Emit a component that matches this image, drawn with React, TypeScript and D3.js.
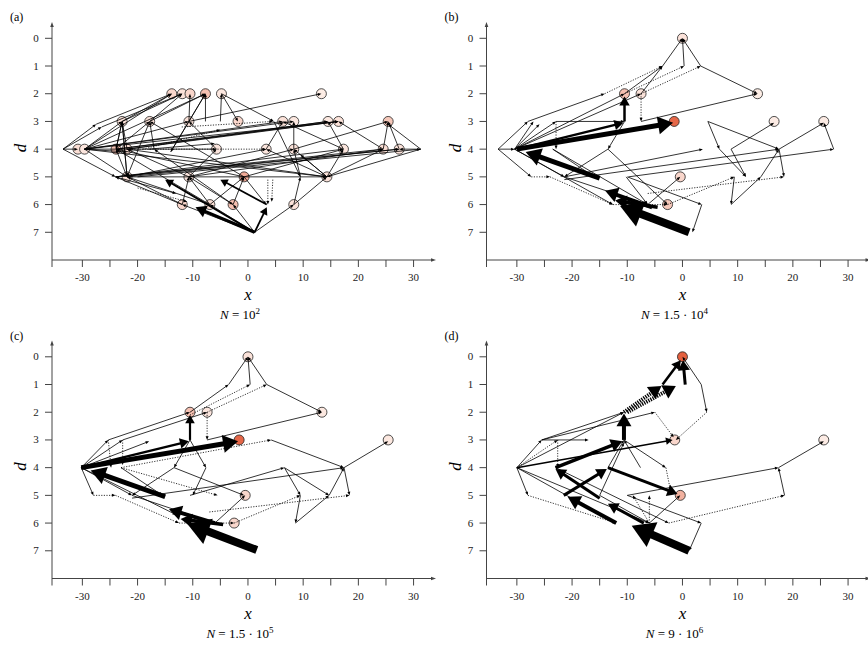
import React from 'react';
import * as d3 from 'd3';

type Node = [number, number, number];
type Edge = [number, number, number, number, number, number];

const xTicks = [-30, -25, -20, -15, -10, -5, 0, 5, 10, 15, 20, 25, 30];
const xTickLabels = [-30, -20, -10, 0, 10, 20, 30];
const yTicks = [0, 1, 2, 3, 4, 5, 6, 7];
const panelLabels = ['(a)', '(b)', '(c)', '(d)'];
const nMantissa = ['', '1.5 · ', '1.5 · ', '9 · '];
const nExponent = ['2', '4', '5', '6'];

const nodesA: Node[] = [
  [-13.8, 2, 0.2], [-11.9, 2, 0.12], [-10.5, 2, 0.2], [-7.7, 2, 0.35], [-4.8, 2, 0.08], [13.3, 2, 0.05],
  [-22.8, 3, 0.12], [-17.8, 3, 0.12], [-10.7, 3, 0.12], [-1.8, 3, 0.2], [6.3, 3, 0.12], [8.3, 3, 0.08],
  [14.5, 3, 0.08], [16.4, 3, 0.12], [25.4, 3, 0.3],
  [-30.8, 4, 0.15], [-29.6, 4, 0.1], [-23.9, 4, 0.35], [-21.9, 4, 0.15], [-5.7, 4, 0.1], [3.3, 4, 0.1],
  [8.3, 4, 0.12], [17.3, 4, 0.1], [24.5, 4, 0.15], [27.4, 4, 0.12],
  [-21.9, 5, 0.12], [-10.7, 5, 0.1], [-0.7, 5, 0.5], [14.3, 5, 0.12],
  [-11.9, 6, 0.2], [-6.9, 6, 0.15], [-2.7, 6, 0.35], [8.3, 6, 0.12],
];

const edgesA: Edge[] = [
  [1.2, 7, -9.5, 6.1, 3.2, 0], [1.2, 7, -15, 5.1, 2, 0], [1.2, 7, 3.4, 6.1, 1.8, 0], [3.4, 6, -5, 5.1, 1.8, 0],
  [1.2, 7, -11.9, 6, 1, 0], [1.2, 7, -6.9, 6, 1, 0], [1.2, 7, -2.7, 6, 1, 0], [1.2, 7, 8.3, 6, 1, 0],
  [3.6, 5.1, 3.6, 6, 1, 1], [4.5, 5.1, 4.3, 5.9, 1, 1],
  [-11.9, 6, -24, 5, 1, 0], [-11.9, 6, -21.9, 5, 1, 0], [-11.9, 6, -10.7, 5, 1, 0], [-6.9, 6, -10.7, 5, 1, 0],
  [-6.9, 6, -0.7, 5, 1, 0], [-2.7, 6, -0.7, 5, 1, 0], [-2.7, 6, -17, 4, 1, 0], [8.3, 6, 14.3, 5, 1, 0],
  [8.3, 6, 9.5, 5, 1, 0], [9.5, 5, 8.3, 4, 1, 0], [-6.9, 6, -23.9, 4, 1, 0], [-20, 5.4, -11, 5.9, 1, 1],
  [-33.5, 4, -27.5, 3.1, 1, 0], [-27.5, 3.1, -13.8, 2, 1, 0], [-33.5, 4, -30.8, 4, 1, 0], [-33.5, 4, -24, 5, 1, 0],
  [-33.5, 4, -26.5, 3.2, 1, 0], [-26.5, 3.2, -11.9, 2, 1, 0], [-29.6, 4, -13.8, 2, 1, 0], [-29.6, 4, -22.8, 3, 1, 0],
  [-29.6, 4, -10.7, 3, 1, 0], [-29.6, 4, -7.7, 2, 1, 0], [-29.6, 4, -21.9, 5, 1, 0], [-29.6, 4, 14.3, 5, 1, 0],
  [-29.6, 4, 6.3, 3, 1, 0], [-29.6, 4, -5.7, 4, 1, 0], [-24, 5, -13, 5.6, 1, 0], [-24, 5, 17.3, 4, 1, 0],
  [-24, 5, 24.5, 4, 1, 0], [-21.9, 5, 27.4, 4, 1, 0], [-21.9, 5, 3.3, 4, 1, 0], [-21.9, 5, -23.9, 4, 1, 0],
  [-21.9, 5, -22.8, 3, 1, 0], [-10.7, 5, -21.9, 4, 1, 0], [-10.7, 5, -5.7, 4, 1, 0], [-10.7, 5, 8.3, 4, 1, 0],
  [-0.7, 5, -17.8, 3, 1, 0], [-0.7, 5, -23.9, 4, 1, 0], [14.3, 5, 8.3, 4, 1, 0], [14.3, 5, 3.3, 4, 1, 0],
  [14.3, 5, 17.3, 4, 1, 0], [14.3, 5, 24.5, 4, 1, 0], [14.3, 5, -21.9, 4, 1, 0],
  [-23.9, 4, -22.8, 3, 1, 0], [-21.9, 4, -22.8, 3, 1, 0], [-23.9, 4, -17.8, 3, 1, 0], [-23.9, 4, 14.5, 3, 1, 0],
  [-21.9, 4, 16.4, 3, 1, 0], [-5.7, 4, -10.7, 3, 1, 0], [-17, 4, -17.8, 3, 1, 0], [-14, 4.1, -7.7, 2, 1, 0],
  [3.3, 4, 6.3, 3, 1, 0], [8.3, 4, 8.3, 3, 1, 0], [8.3, 4, 25.4, 3, 1, 0], [17.3, 4, 14.5, 3, 1, 0],
  [17.3, 4, 6.3, 3, 1, 0], [24.5, 4, 16.4, 3, 1, 0], [24.5, 4, 25.4, 3, 1, 0], [27.4, 4, 25.4, 3, 1, 0],
  [31.3, 4, 25.4, 3.1, 1, 0], [31.3, 4, 27.4, 4, 1, 0], [31.3, 4, 14.3, 5, 1, 0],
  [-22.8, 3, -13.8, 2, 1, 0], [-22.8, 3, -11.9, 2, 1, 0], [-17.8, 3, -11.9, 2, 1, 0], [-17.8, 3, -7.7, 2, 1, 0],
  [-10.7, 3, -10.5, 2, 1, 0], [-10.7, 3, -7.7, 2, 1, 0], [-7.7, 3, -7.7, 2, 1, 0], [-5, 3, -4.8, 2, 1, 0],
  [-4.8, 2, -1.8, 3, 1, 0], [-10.7, 3, 13.3, 2, 1, 0], [-4.8, 2, 4.7, 3, 1, 0], [4.7, 3, 9.5, 5, 1, 0],
  [-12, 3.2, 4.5, 3, 1, 1], [-19, 4, -5, 3.3, 1, 1], [-18, 4, -6, 3.8, 1, 0],
  [-24, 5, 27.4, 4, 1, 0], [-20, 5, 31.3, 4, 1, 0], [-29.6, 4, 8.3, 3, 1, 0], [-21.9, 4, 14.5, 3, 1, 0],
  [-10.7, 5, 24.5, 4, 1, 0], [-0.7, 5, 17.3, 4, 1, 0], [-23.9, 4, 16.4, 3, 1, 0], [-29.6, 4, 16.4, 3, 1, 0],
  [-21.9, 5, 14.3, 5, 1, 0], [-22.8, 3, -23.9, 4, 1, 0], [-22.8, 3, -21.9, 5, 1, 0], [-17.8, 3, -21.9, 5, 1, 0],
  [-10.7, 3, -14, 4.1, 1, 0], [-0.7, 5, 3.3, 6, 1, 0], [-10.7, 5, -2.7, 6, 1, 0], [-21.9, 5, -6.9, 6, 1, 0],
  [14.3, 5, 9.5, 4.2, 1, 0], [-23.9, 4, 3.3, 4, 1, 1], [-29.6, 4, -21.9, 4.1, 1, 0],
];

const nodesB: Node[] = [
  [0, 0, 0.12], [-10.5, 2, 0.35], [-7.5, 2, 0.12], [13.6, 2, 0.05], [-1.5, 3, 0.95],
  [16.6, 3, 0.06], [25.6, 3, 0.06], [-0.4, 5, 0.2], [-2.7, 6, 0.3],
];

const edgesB: Edge[] = [
  [1.2, 7, -11.3, 6.05, 8, 0], [-5.5, 6.1, -14, 5.5, 4, 0], [-4.5, 6.1, -12.2, 5.85, 3.5, 0],
  [-15, 5.05, -28.4, 4.1, 5, 0], [-30, 4, -1.7, 3.05, 5, 0], [-30, 4, -10.7, 3.05, 2.5, 0],
  [-10.5, 3, -10.5, 2.1, 2.5, 0],
  [-33.4, 4, -28, 3, 1, 0], [-28, 3, -14.1, 2, 1, 0], [-14.1, 2, -3.6, 1, 1, 1], [-33.4, 4, -30.4, 4, 1, 0],
  [-33.4, 4, -27.4, 5, 1, 0], [-27.4, 5, -24, 5, 1, 1], [-24, 5, -12.6, 6, 1, 1], [-30.4, 4, -27, 3, 1, 0],
  [-30.4, 4, -25.9, 3.1, 1, 0], [-30.4, 4, -22.9, 3, 1, 0], [-22.9, 3, -22.9, 4, 1, 1], [-22.9, 3, -10.5, 3, 1, 0],
  [-30.4, 4, -7.5, 2, 1, 0], [-30.4, 4, -10.5, 2, 1, 0], [-7.5, 2, -7.5, 3, 1, 1], [-7.5, 3, 13.6, 2, 1, 0],
  [-10.5, 2, -3.6, 1, 1, 0], [-7.5, 2, -3.6, 1, 1, 0], [-3.6, 1, 0, 0, 1, 0], [0.3, 1, 0, 0, 1, 0],
  [3.3, 1, 0, 0, 1, 0], [3.3, 1, 13.6, 2, 1, 0], [-10.5, 2, 0.3, 1, 1, 1], [-7.5, 2, 3.3, 1, 1, 1],
  [-10.5, 3, -13.5, 4, 1, 0], [-13.5, 4, -21.4, 5, 1, 0], [-13.5, 4, -2.7, 6, 1, 0], [-23.5, 4, -16, 5, 1, 0],
  [-23.5, 4, -6.3, 6, 1, 0], [-30.4, 4, -21.4, 5, 1, 0], [-30.4, 4, -12.6, 6, 1, 0], [-21.4, 5, 3.7, 4, 1, 0],
  [-21.4, 5.1, 17.5, 4, 1, 0], [-21.4, 5, -6.3, 6, 1, 0], [-10.2, 5, -6.3, 6, 1, 0], [-10, 5, 3.5, 6, 1, 0],
  [3.5, 6, 1.8, 7, 1, 0], [-9.8, 5, 27.4, 4, 1, 0], [27.4, 4, 25.6, 3.05, 1, 0], [17.5, 4, 25.6, 3.05, 1, 0],
  [17.5, 4, 18.4, 5, 1, 0], [14.2, 5, 17.5, 4, 1, 0], [8.8, 6, 14.2, 5, 1, 0], [9.4, 5, 8.8, 6, 1, 0],
  [4.6, 3, 6.7, 4, 1, 0], [4.6, 3, 17.5, 4, 1, 0], [6.7, 4, 11.5, 5, 1, 0], [8.8, 4, 11.5, 5, 1, 0],
  [8.8, 4, 16.6, 3.05, 1, 0], [-6.3, 6, -0.4, 5, 1, 0], [-2.7, 6, 9.4, 5, 1, 1], [-6.3, 5.6, 18.4, 5, 1, 1],
  [-12.6, 6, -2.7, 6, 1, 1],
];

const nodesC: Node[] = [
  [0, 0, 0.12], [-10.5, 2, 0.35], [-7.4, 2, 0.1], [13.4, 2, 0.08], [-1.6, 3, 0.95],
  [25.4, 3, 0.08], [-0.5, 5, 0.2], [-2.5, 6, 0.2],
];

const edgesC: Edge[] = [
  [1.6, 6.97, -11, 6.02, 8, 0], [-6, 6, -14.3, 5.5, 4, 0], [-4.5, 6.05, -12.2, 5.85, 3.5, 0],
  [-15, 5.05, -28.5, 4.1, 5, 0], [-30.2, 4, -1.8, 3.05, 5, 0], [-30.2, 4, -10.7, 3.05, 2.5, 0],
  [-10.5, 3, -10.5, 2.1, 2.2, 0],
  [-30.2, 4, -25.3, 3, 1, 0], [-25.3, 3, -24.8, 4, 1, 1], [-25.3, 3, -10.5, 2, 1, 0], [-22.7, 3, -7.4, 2, 1, 0],
  [-30.2, 4, -22.7, 3, 1, 0], [-22.7, 3, -22.7, 3.9, 1, 1], [-30.2, 4, -17.9, 3.05, 1, 0],
  [-10.5, 2, -3.5, 1, 1, 0], [-3.5, 1, 0, 0, 1, 0], [0.4, 1, 0, 0, 1, 0], [3.4, 1, 0, 0, 1, 0],
  [3.4, 1, 13.4, 2, 1, 0], [-10.5, 2.1, 0.4, 1, 1, 1], [-7.4, 2, 3.4, 1, 1, 1], [-7.4, 2, -7.4, 3, 1, 1],
  [-7.4, 3, 13.4, 2, 1, 0], [-23, 4, 4.2, 3, 1, 1], [4.2, 3, 17.4, 4, 1, 0], [17.4, 4, 25.4, 3.05, 1, 0],
  [17.4, 4, 18.4, 5, 1, 0], [-30.2, 4, -28, 5, 1, 0], [-28, 5, -24, 5, 1, 1], [-24, 5, -12.5, 6, 1, 1],
  [-30.2, 4, -13, 5.7, 1, 0], [-30.2, 4, -21, 5, 1, 0], [-10.5, 3, -13.4, 4, 1, 0], [-13.4, 4, -21, 5, 1, 0],
  [-13.4, 4, -0.7, 5, 1, 0], [-10.5, 3, -7.6, 4, 1, 0], [-7.6, 4, -10, 5, 1, 0], [-23, 4, -5.5, 5, 1, 1],
  [-23, 4, -15.5, 5, 1, 0], [-21, 5, -6, 6, 1, 0], [-10.5, 5, 6.6, 4, 1, 0], [6.6, 4, 9.5, 5, 1, 0],
  [9.5, 5, 8.6, 6, 1, 0], [8.6, 6, 14.7, 5, 1, 0], [14.7, 5, 17.4, 4, 1, 0], [6.6, 4, 14.7, 5, 1, 0],
  [-21, 5.1, 17.4, 4, 1, 0], [-2.5, 6, 9.5, 5, 1, 1], [-7, 5.6, 18.4, 5, 1, 1], [-6, 6, -0.5, 5, 1, 0],
  [-12.5, 6, -2.5, 6, 1, 1],
];

const nodesD: Node[] = [
  [0, 0, 1.0], [-1.4, 3, 0.2], [-0.4, 5, 0.45], [25.6, 3, 0.06],
];

const edgesD: Edge[] = [
  [1.2, 7, -9.2, 6.1, 8, 0], [-7, 6, -13.5, 5.3, 3, 0], [-12, 6, -20.8, 5.05, 4, 0], [-21.5, 5, -13.7, 4.05, 3, 0],
  [-13.5, 4, -0.9, 4.95, 3, 0], [-15, 5.1, -23, 4.05, 3, 0], [-23, 4, -10.9, 3.05, 3.5, 0],
  [-10.6, 3, -10.6, 2.05, 4, 0], [-10.6, 2, -3.8, 1.05, 4, 1], [-10, 2, -1.2, 1.05, 4, 1],
  [-3.6, 1, -0.3, 0.12, 2.5, 0], [0.5, 1, 0.1, 0.12, 3, 0], [-30, 4, -1.8, 3, 1.5, 0],
  [3.4, 1, 0, 0, 1, 0], [3.4, 1, 4.4, 2, 1, 0], [4.4, 2, -1.2, 3, 1, 1], [-5, 2, -1.6, 2.9, 1, 1],
  [-30, 4, -25.5, 3, 1, 0], [-25.5, 3, -10.6, 2, 1, 0], [-25.5, 3, -5, 2, 1, 0], [-25.5, 3, -17, 3, 1, 0],
  [-30, 4, -22.6, 3, 1, 1], [-22.6, 3, -22.6, 4, 1, 1], [-30, 4, -28, 5, 1, 0], [-28, 5, -12, 6, 1, 1],
  [-30, 4, -12, 6, 1, 0], [-30, 4, -6, 6, 1, 0], [-13.5, 4, -10.6, 3, 1, 0], [-7.6, 4, -10.6, 3, 1, 0],
  [-23, 4, -2.5, 6, 1, 0], [-2.5, 6, 18.5, 5, 1, 1], [18.5, 5, 17.4, 4, 1, 0], [17.4, 4, 25.6, 3.05, 1, 0],
  [-10, 5, 17.4, 4, 1, 0], [-10, 5, 3.4, 6, 1, 0], [3.4, 6, 1.2, 7, 1, 0], [-6, 6, -0.4, 5, 1, 0],
  [-10.6, 3, -3, 4, 1, 0], [-3, 4, -2, 5, 1, 1], [-15, 5, -6, 6, 1, 0], [-15, 5, -10.6, 3.1, 1, 0],
  [-6, 6, -9, 5, 1, 1], [-6, 6, -6, 5, 1, 1], [-30, 4, -10.6, 2, 1, 0],
];

const panelNodes = [nodesA, nodesB, nodesC, nodesD];
const panelEdges = [edgesA, edgesB, edgesC, edgesD];
const offsets: [number, number][] = [[0, 0], [434.5, 0], [0, 318.5], [434.5, 318.5]];

const xScale = d3.scaleLinear().domain([-35.5, 33.7]).range([52, 434]);
const yScale = d3.scaleLinear().domain([-0.48, 8]).range([25, 260]);
const color = d3.scaleLinear<string>().domain([0, 1]).range(['#fef4ee', '#e4603f']).interpolate(d3.interpolateRgb);

const serif = 'Liberation Serif, Times New Roman, DejaVu Serif, serif';

function EdgeMark({ e }: { e: Edge }) {
  const [x1, d1, x2, d2, w, dot] = e;
  const p1 = [xScale(x1), yScale(d1)];
  const p2 = [xScale(x2), yScale(d2)];
  const dx = p2[0] - p1[0];
  const dy = p2[1] - p1[1];
  const len = Math.hypot(dx, dy) || 1;
  const ux = dx / len, uy = dy / len;
  const px = -uy, py = ux;
  const thin = w <= 1.2;
  const hl = thin ? 3.6 : 2.4 * w + 3;
  const hw = thin ? 1.5 : 1.5 * w + 1.5;
  const lx = p2[0] - ux * hl * 0.85;
  const ly = p2[1] - uy * hl * 0.85;
  const bx = p2[0] - ux * hl;
  const by = p2[1] - uy * hl;
  const pts = `${p2[0]},${p2[1]} ${bx + px * hw},${by + py * hw} ${bx - px * hw},${by - py * hw}`;
  return (
    <g>
      <line x1={p1[0]} y1={p1[1]} x2={lx} y2={ly} stroke="#000" strokeWidth={thin ? 0.8 : w}
        strokeDasharray={dot ? (thin ? '1.2,1.4' : '1.3,1.1') : undefined} />
      <polygon points={pts} fill="#000" />
    </g>
  );
}

function Panel({ i }: { i: number }) {
  const [ox, oy] = offsets[i];
  const nodes = panelNodes[i];
  const edges = panelEdges[i];
  const axisColor = '#444';
  return (
    <g transform={`translate(${ox},${oy})`}>
      <text x={10} y={21} fontFamily={serif} fontSize={12}>{panelLabels[i]}</text>
      <line x1={52} y1={267} x2={52} y2={25} stroke={axisColor} strokeWidth={1} />
      <polygon points="52,22 50.2,27 53.8,27" fill={axisColor} />
      {yTicks.map(t => (
        <g key={t}>
          <line x1={45} x2={52} y1={yScale(t)} y2={yScale(t)} stroke={axisColor} />
          <text x={36} y={yScale(t) + 3.5} textAnchor="middle" fontFamily={serif} fontSize={11} fill="#222">{t}</text>
        </g>
      ))}
      <line x1={52} y1={260} x2={433} y2={260} stroke={axisColor} strokeWidth={1} />
      <polygon points="436,260 431,258.2 431,261.8" fill={axisColor} />
      {xTicks.map(t => (
        <line key={t} x1={xScale(t)} x2={xScale(t)} y1={260} y2={267} stroke={axisColor} />
      ))}
      {xTickLabels.map(t => (
        <text key={t} x={xScale(t)} y={281} textAnchor="middle" fontFamily={serif} fontSize={11} fill="#222">{t}</text>
      ))}
      <text x={xScale(0)} y={300} textAnchor="middle" fontFamily={serif} fontStyle="italic" fontSize={17}>x</text>
      <text transform={`translate(26,148) rotate(-90)`} textAnchor="middle" fontFamily={serif} fontStyle="italic" fontSize={17}>d</text>
      <text x={xScale(0) - 8} y={319} textAnchor="middle" fontFamily={serif} fontSize={13}>
        <tspan fontStyle="italic">N</tspan> = {nMantissa[i]}10<tspan dy={-5} fontSize={9}>{nExponent[i]}</tspan>
      </text>
      {nodes.map((n, k) => (
        <circle key={k} cx={xScale(n[0])} cy={yScale(n[1])} r={5} fill={color(n[2])} stroke="#222" strokeWidth={0.8} />
      ))}
      {edges.map((e, k) => <EdgeMark key={k} e={e} />)}
    </g>
  );
}

export default function App() {
  return (
    <svg width={868} height={645} style={{ position: 'absolute', left: 0, top: 0, background: '#fff' }}>
      <rect width={868} height={645} fill="#fff" />
      {[0, 1, 2, 3].map(i => <Panel key={i} i={i} />)}
    </svg>
  );
}
